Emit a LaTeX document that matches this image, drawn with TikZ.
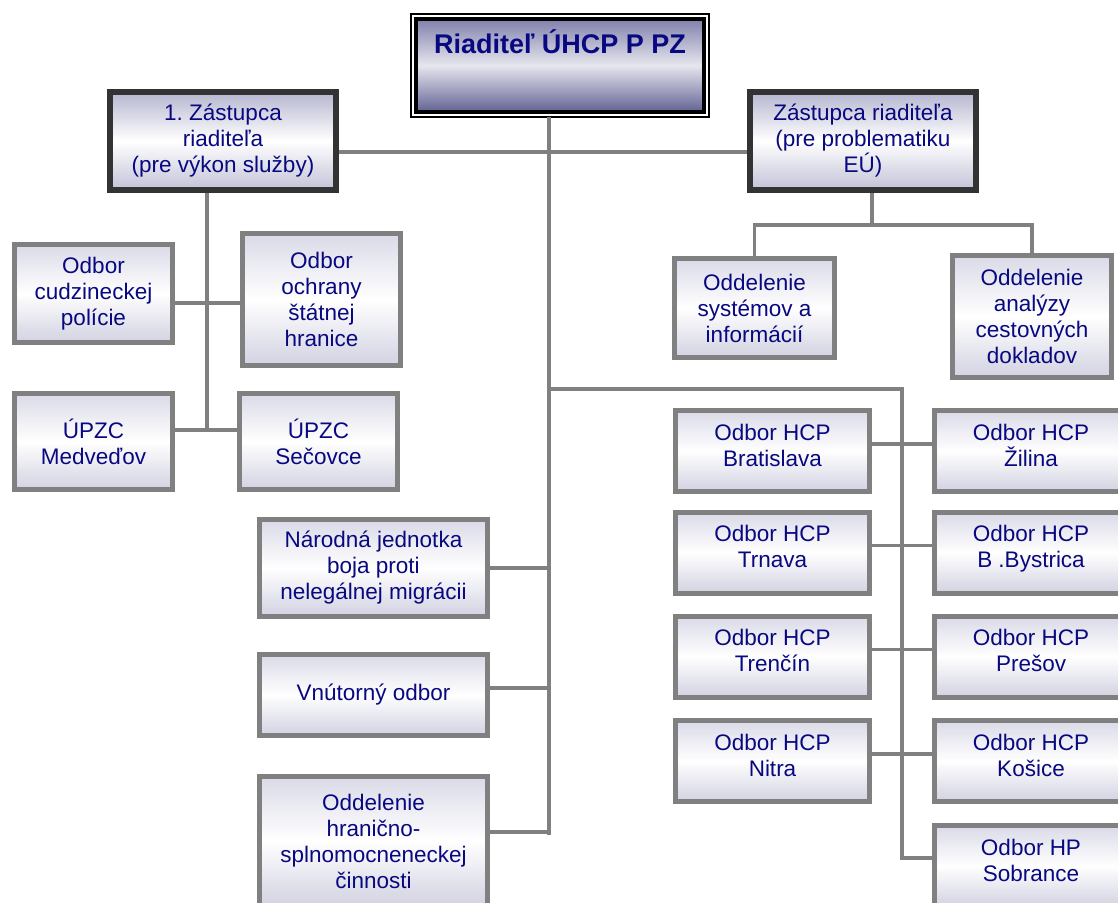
\documentclass[tikz,border=0pt]{standalone}
\usepackage{fontspec}
\setmainfont{Liberation Sans}
\usetikzlibrary{positioning,calc}
\definecolor{navytext}{RGB}{8,8,128}
\definecolor{boxgray}{RGB}{128,128,128}
\definecolor{linegray}{RGB}{128,128,128}
\definecolor{depframe}{RGB}{51,51,51}
\definecolor{unittop}{RGB}{218,218,232}
\definecolor{unitbot}{RGB}{210,210,226}
\definecolor{deptop}{RGB}{182,182,208}
\definecolor{depbot}{RGB}{194,194,216}
\definecolor{titletop}{RGB}{128,128,172}
\definecolor{titlemid}{RGB}{230,230,238}
\definecolor{titlebot}{RGB}{98,98,148}
\frenchspacing

\begin{document}
\begin{tikzpicture}[x=1pt, y=-1pt,
    unit/.style={draw=boxgray, line width=5pt, top color=unittop,
        bottom color=unitbot, middle color=white, text=navytext,
        align=center, inner sep=0pt, font=\fontsize{22.5}{26}\selectfont},
    hcp/.style={unit, minimum width=194pt, minimum height=81pt, text height=42pt, text depth=12pt},
    deputy/.style={unit, draw=depframe, line width=6pt, top color=deptop,
        bottom color=depbot, middle color=white, minimum width=226pt, minimum height=98pt},
    link/.style={draw=linegray, line width=3.5pt}]

    \useasboundingbox (0,0) rectangle (1118,902);

    % Director
    \node[draw=black, line width=4pt, top color=titletop, bottom color=titlebot,
        middle color=titlemid, text=navytext, font=\fontsize{27}{32}\selectfont\bfseries,
        minimum width=288pt, minimum height=93pt, text height=20pt, text depth=45pt, inner sep=0pt]
        (title) at (560,65.5) {Riaditeľ ÚHCP P PZ};
    \draw[black, line width=2pt] ($(title.north west)+(-3,-3)$) rectangle ($(title.south east)+(3,3)$);

    % Deputies
    \node[deputy] (dep1) at (223,141) {1. Zástupca\\riaditeľa\\(pre výkon služby)};
    \node[deputy] (dep2) at (863,141) {Zástupca riaditeľa\\(pre problematiku\\EÚ)};

    % Left group
    \node[unit, minimum width=158pt, minimum height=98pt] (cudz) at (93.5,293.5) {Odbor\\cudzineckej\\polície};
    \node[unit, minimum width=158pt, minimum height=132pt] (ochrana) at (321.5,299.5) {Odbor\\ochrany\\štátnej\\hranice};
    \node[unit, minimum width=158pt, minimum height=96pt] (medv) at (93.5,441.5) {ÚPZC\\Medveďov};
    \node[unit, minimum width=158pt, minimum height=96pt] (secovce) at (318.5,441.5) {ÚPZC\\Sečovce};

    % EU group
    \node[unit, minimum width=160pt, minimum height=99pt] (sys) at (754.5,308) {Oddelenie\\systémov a\\informácií};
    \node[unit, minimum width=159pt, minimum height=122pt] (analyzy) at (1032,316.5) {Oddelenie\\analýzy\\cestovných\\dokladov};

    % Directly under the director
    \node[unit, minimum width=228pt, minimum height=97pt] (narodna) at (373.5,568) {Národná jednotka\\boja proti\\nelegálnej migrácii};
    \node[unit, minimum width=228pt, minimum height=81pt] (vnutorny) at (373.5,695) {Vnútorný odbor};
    \node[unit, minimum width=228pt, minimum height=129pt] (hranicno) at (373.5,841) {Oddelenie\\hranično-\\splnomocneneckej\\činnosti};

    % Regional directorates
    \node[hcp] (brat) at (772.5,451) {Odbor HCP\\Bratislava};
    \node[hcp] (trn) at (772.5,552.5) {Odbor HCP\\Trnava};
    \node[hcp] (tren) at (772.5,656.5) {Odbor HCP\\Trenčín};
    \node[hcp] (nit) at (772.5,761) {Odbor HCP\\Nitra};
    \node[hcp] (zil) at (1031,451) {Odbor HCP\\Žilina};
    \node[hcp] (bb) at (1031,552.5) {Odbor HCP\\B .Bystrica};
    \node[hcp] (pres) at (1031,656.5) {Odbor HCP\\Prešov};
    \node[hcp] (kos) at (1031,761) {Odbor HCP\\Košice};
    \node[hcp] (sobr) at (1031,866) {Odbor HP\\Sobrance};

    % Connectors
    \coordinate (spinetop) at (549,117);
    \coordinate (spinebot) at (549,835);
    \coordinate (dline) at (549,152);
    \coordinate (ltop) at (207,193);
    \coordinate (lmid) at (207,303);
    \coordinate (lbot) at (207,430);
    \coordinate (rj) at (872,225);
    \coordinate (hj) at (902,389);
    \coordinate (sj) at ([yshift=8pt]sobr.west);

    \draw[link] (spinetop) -- (spinebot);
    \draw[link] (dep1.east |- dline) -- (dep2.west |- dline);

    \draw[link] (ltop) -- (lbot);
    \draw[link] (cudz.east |- lmid) -- (ochrana.west |- lmid);
    \draw[link] (medv.east |- lbot) -- (secovce.west |- lbot);

    \draw[link] (dep2.south -| rj) -- (rj);
    \draw[link] (sys.north) |- (rj) -| (analyzy.north);

    \draw[link] (narodna.east) -- (narodna.east -| spinebot);
    \draw[link] ([yshift=7pt]vnutorny.east) -- ([yshift=7pt]vnutorny.east -| spinebot);
    \draw[link] ([yshift=9pt]hranicno.east) -- ([yshift=9pt]hranicno.east -| spinebot);

    \draw[link] (spinetop |- hj) -- (hj) -- (hj |- sj) -- (sj);
    \foreach \a/\b in {brat/zil, trn/bb, tren/pres, nit/kos}
        \draw[link] ([yshift=7pt]\a.east) -- ([yshift=7pt]\b.west);

\end{tikzpicture}
\end{document}
